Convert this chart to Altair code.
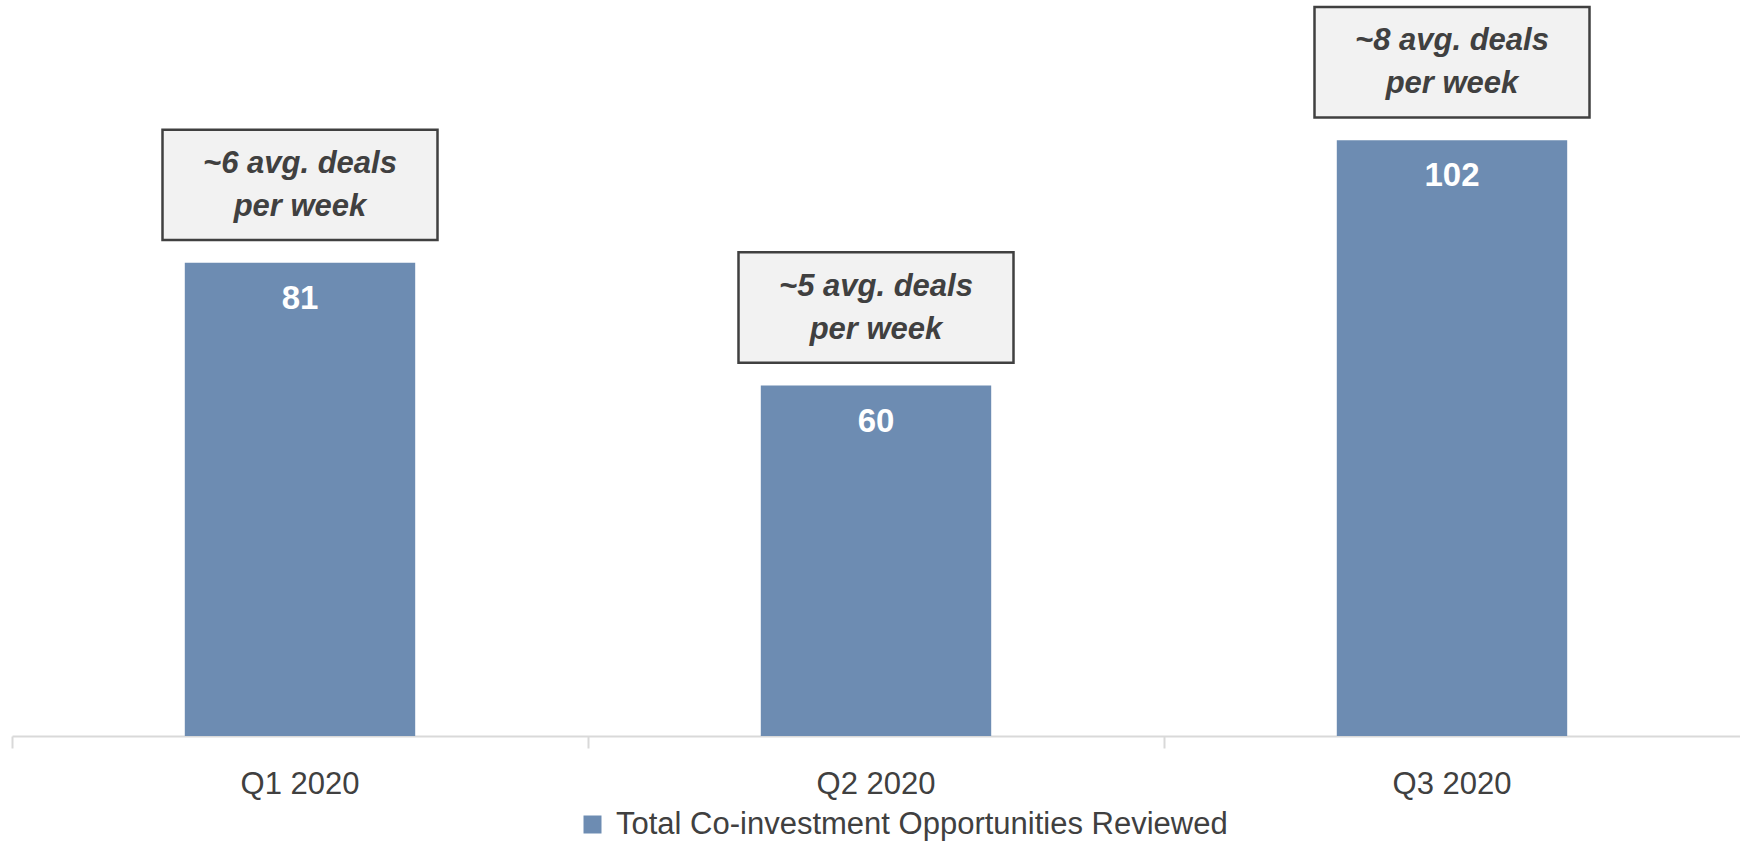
import altair as alt
import pandas as pd

quarters = ["Q1 2020", "Q2 2020", "Q3 2020"]
reviewed = [81, 60, 102]
notes = ["~6 avg. deals\nper week", "~5 avg. deals\nper week", "~8 avg. deals\nper week"]
series_name = "Total Co-investment Opportunities Reviewed"

df = pd.DataFrame({
    "quarter": quarters,
    "value": reviewed,
    "note": notes,
    "series": [series_name] * len(quarters),
})

FONT = "Liberation Sans, Arial, sans-serif"
BAR = "#6d8cb2"
TXT = "#404040"

x = alt.X(
    "quarter:N",
    sort=quarters,
    title=None,
    scale=alt.Scale(paddingInner=0, paddingOuter=0),
    axis=alt.Axis(
        bandPosition=0,
        labelAngle=0,
        labelFont=FONT,
        labelFontSize=31,
        labelColor=TXT,
        labelPadding=21,
        domainColor="#d9d9d9",
        domainWidth=2,
        tickColor="#d9d9d9",
        tickWidth=2,
        tickSize=12,
        grid=False,
    ),
)
y_scale = alt.Scale(domain=[0, 126], nice=False, zero=True)

bars = alt.Chart(df).mark_bar(width=alt.RelativeBandSize(0.4)).encode(
    x=x,
    y=alt.Y("value:Q", scale=y_scale, axis=None),
    color=alt.Color(
        "series:N",
        scale=alt.Scale(range=[BAR]),
        legend=alt.Legend(
            title=None,
            orient="none",
            legendX=565,
            legendY=809,
            symbolType="square",
            symbolSize=324,
            symbolStrokeWidth=0,
            labelFont=FONT,
            labelFontSize=31,
            labelColor=TXT,
            labelOffset=8,
            labelLimit=1000,
            padding=0,
        ),
    ),
)

value_labels = alt.Chart(df).mark_text(
    font=FONT, fontSize=33, fontWeight="bold", color="white", baseline="middle", dy=36
).encode(
    x=x,
    y=alt.Y("value:Q", scale=y_scale),
    text=alt.Text("value:Q"),
)

boxes = alt.Chart(df).transform_calculate(
    lo="datum.value + 3.9", hi="datum.value + 22.8"
).mark_bar(width=275, color="#f2f2f2", stroke="#404040", strokeWidth=2.5).encode(
    x=x,
    y=alt.Y("lo:Q", scale=y_scale),
    y2="hi:Q",
)

box_text = alt.Chart(df).transform_calculate(
    mid="datum.value + 13.35"
).mark_text(
    font=FONT, fontSize=31, fontWeight="bold", fontStyle="italic", color=TXT,
    baseline="middle", lineBreak="\n", lineHeight=43, dy=-21,
).encode(
    x=x,
    y=alt.Y("mid:Q", scale=y_scale),
    text="note:N",
)

chart = alt.layer(bars, value_labels, boxes, box_text).properties(
    width=1728,
    height=736,
    background="white",
    autosize=alt.AutoSizeParams(type="none"),
    padding={"left": 12, "top": 0, "right": 0, "bottom": 107},
).configure_view(stroke=None)

chart.save("out.html", embed_options={"renderer": "svg", "actions": False})
